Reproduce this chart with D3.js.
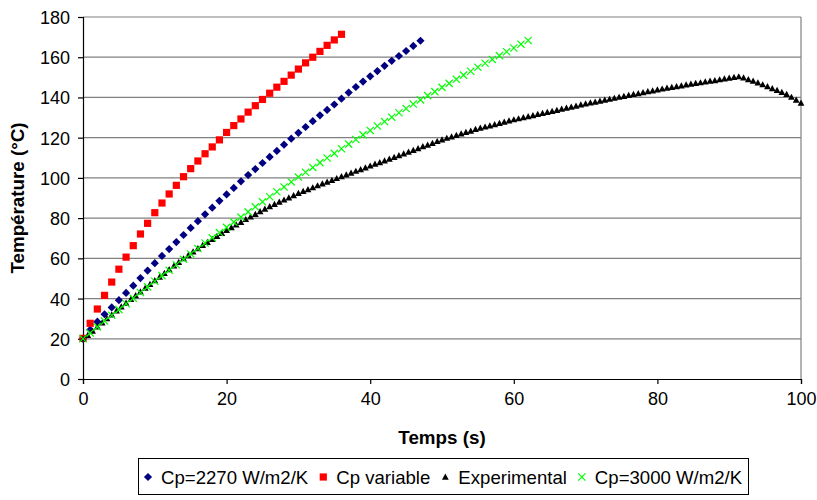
<!DOCTYPE html>
<html>
<head>
<meta charset="utf-8">
<script src="https://cdn.jsdelivr.net/npm/d3@7"></script>
<style>
  body { margin: 0; background: #fff; }
  svg { font-family: "Liberation Sans", Arial, sans-serif; }
</style>
</head>
<body>
<svg id="chart" width="817" height="500"></svg>
<script>
// Séries (température en °C)
const modelStep = 1;          // pas de temps des modèles (s)
const expStep = 2 / 3;        // pas d'échantillonnage des mesures (s)

const cp2270 = [20.0, 24.5, 28.5, 32.2, 35.6, 39.2, 42.8, 46.4, 50.2, 53.9,
  57.6, 61.2, 64.6, 68.1, 71.6, 75.1, 78.5, 81.9, 85.2, 88.6,
  91.8, 95.0, 98.3, 101.4, 104.4, 107.4, 110.4, 113.4, 116.5, 119.5,
  122.4, 125.3, 128.2, 131.1, 133.8, 136.5, 139.4, 142.4, 145.2, 147.9,
  150.5, 153.1, 155.7, 158.2, 160.6, 163.1, 165.6, 168.2];

const cpVariable = [20.2, 27.7, 34.8, 41.6, 48.2, 54.6, 60.6, 66.3, 72.1, 77.4,
  82.7, 87.5, 92.0, 96.3, 100.6, 104.6, 108.4, 112.0, 115.4, 118.9,
  122.6, 126.0, 129.3, 132.7, 135.9, 139.0, 142.1, 145.1, 148.0, 151.1,
  154.1, 157.2, 160.0, 162.9, 165.9, 168.6, 171.4];

const experimental = [20.0, 21.8, 23.9, 26.0, 28.0, 30.1, 32.0, 34.0, 36.0, 37.8,
  39.7, 41.6, 43.4, 45.3, 47.2, 49.0, 50.8, 52.6, 54.5, 56.3,
  58.1, 59.9, 61.6, 63.3, 64.9, 66.5, 68.0, 69.5, 71.0, 72.5,
  74.0, 75.4, 76.7, 78.0, 79.4, 80.7, 82.0, 83.3, 84.6, 85.8,
  86.9, 88.0, 89.1, 90.2, 91.3, 92.4, 93.4, 94.3, 95.2, 96.2,
  97.1, 98.0, 98.9, 99.8, 100.7, 101.6, 102.5, 103.4, 104.2, 105.1,
  106.0, 106.9, 107.7, 108.6, 109.4, 110.3, 111.2, 112.0, 112.9, 113.8,
  114.7, 115.6, 116.4, 117.3, 118.2, 119.0, 119.8, 120.5, 121.2, 122.0,
  122.7, 123.4, 124.2, 124.8, 125.4, 126.0, 126.6, 127.2, 127.8, 128.4,
  129.0, 129.5, 130.1, 130.6, 131.1, 131.7, 132.2, 132.7, 133.2, 133.7,
  134.3, 134.8, 135.3, 135.8, 136.4, 136.9, 137.4, 137.8, 138.3, 138.8,
  139.2, 139.7, 140.2, 140.6, 141.1, 141.6, 142.0, 142.5, 143.0, 143.4,
  143.9, 144.3, 144.7, 145.1, 145.5, 145.9, 146.3, 146.7, 147.1, 147.4,
  147.8, 148.2, 148.5, 148.9, 149.3, 149.7, 150.1, 150.4, 149.8, 149.0,
  148.2, 147.3, 146.4, 145.5, 144.5, 143.6, 142.6, 141.6, 140.2, 138.8,
  137.3];

const cp3000 = [20.0, 22.9, 25.9, 28.8, 31.7, 34.5, 37.4, 40.2, 43.0, 45.8,
  48.6, 51.4, 54.1, 56.8, 59.5, 62.2, 64.9, 67.6, 70.2, 72.8,
  75.4, 78.0, 80.5, 83.1, 85.6, 88.1, 90.6, 93.1, 95.5, 98.0,
  100.4, 102.8, 105.2, 107.6, 109.9, 112.2, 114.5, 116.8, 119.1, 121.4,
  123.6, 125.8, 128.0, 130.2, 132.4, 134.5, 136.7, 138.8, 140.9, 142.9,
  145.0, 147.0, 149.0, 151.1, 153.0, 155.0, 157.0, 158.9, 160.8, 162.7,
  164.6, 166.5, 168.3];

const xTicks = [0, 20, 40, 60, 80, 100];
const yTicks = [0, 20, 40, 60, 80, 100, 120, 140, 160, 180];

const seriesNames = ['Cp=2270 W/m2/K', 'Cp variable', 'Experimental', 'Cp=3000 W/m2/K'];

// Zone de tracé
const svg = d3.select('#chart');
const plotLeft = 83, plotRight = 801, plotTop = 17, plotBottom = 379;

const x = d3.scaleLinear().domain([0, 100]).range([plotLeft, plotRight]);
const y = d3.scaleLinear().domain([0, 180]).range([plotBottom, plotTop]);

// Formes des marqueurs
const markers = {
  diamond: 'M0,-4.1L4.1,0L0,4.1L-4.1,0Z',
  square: 'M-3.6,-3.6H3.6V3.6H-3.6Z',
  triangle: 'M0,-3.4L3.4,2.8H-3.4Z',
  cross: 'M-3.6,-3.6L3.6,3.6M-3.6,3.6L3.6,-3.6'
};

const series = [
  { name: seriesNames[0], values: cp2270, step: modelStep, shape: 'diamond', color: '#000080' },
  { name: seriesNames[1], values: cpVariable, step: modelStep, shape: 'square', color: '#ff0000' },
  { name: seriesNames[2], values: experimental, step: expStep, shape: 'triangle', color: '#000000' },
  { name: seriesNames[3], values: cp3000, step: modelStep, shape: 'cross', color: '#00ff00' }
];

function drawMarker(sel, s) {
  sel.attr('d', markers[s.shape]);
  if (s.shape === 'cross') {
    sel.attr('fill', 'none').attr('stroke', s.color).attr('stroke-width', 1.2);
  } else {
    sel.attr('fill', s.color);
  }
}

// Grille horizontale
svg.append('g')
  .selectAll('line')
  .data(yTicks.filter(d => d > 0))
  .join('line')
  .attr('x1', plotLeft).attr('x2', plotRight)
  .attr('y1', d => y(d)).attr('y2', d => y(d))
  .attr('stroke', '#808080')
  .attr('stroke-width', 1.2);

// Bordure droite de la zone de tracé
svg.append('line')
  .attr('x1', plotRight).attr('x2', plotRight)
  .attr('y1', plotTop).attr('y2', plotBottom)
  .attr('stroke', '#808080')
  .attr('stroke-width', 1.2);

// Axes
const xAxis = svg.append('g')
  .attr('transform', `translate(0,${plotBottom})`)
  .call(d3.axisBottom(x).tickValues(xTicks).tickSize(5).tickPadding(8));

const yAxis = svg.append('g')
  .attr('transform', `translate(${plotLeft},0)`)
  .call(d3.axisLeft(y).tickValues(yTicks).tickSize(5).tickPadding(8));

[xAxis, yAxis].forEach(g => {
  g.select('.domain').attr('stroke', '#000').attr('stroke-width', 1.2);
  g.selectAll('.tick line').attr('stroke', '#000').attr('stroke-width', 1.2);
  g.selectAll('.tick text')
    .attr('fill', '#000')
    .style('font-size', '18px')
    .style('font-family', '"Liberation Sans", Arial, sans-serif');
});
yAxis.selectAll('.tick text').attr('dy', '0.36em');

// Séries
series.forEach(s => {
  svg.append('g')
    .selectAll('path')
    .data(s.values.map((v, i) => ({ t: i * s.step, v })))
    .join('path')
    .call(drawMarker, s)
    .attr('transform', d => `translate(${x(d.t)},${y(d.v)})`);
});

// Titres des axes
svg.append('text')
  .attr('x', (plotLeft + plotRight) / 2)
  .attr('y', 444)
  .attr('text-anchor', 'middle')
  .style('font-size', '18.8px')
  .style('font-weight', 'bold')
  .text('Temps (s)');

svg.append('text')
  .attr('transform', `translate(24,${(plotTop + plotBottom) / 2}) rotate(-90)`)
  .attr('text-anchor', 'middle')
  .style('font-size', '18.8px')
  .style('font-weight', 'bold')
  .text('Température (°C)');

// Légende
const legend = svg.append('g');
legend.append('rect')
  .attr('x', 138.5).attr('y', 458.5)
  .attr('width', 610).attr('height', 36)
  .attr('fill', '#fff')
  .attr('stroke', '#000')
  .attr('stroke-width', 1);

let cursor = 148;
series.forEach(s => {
  const item = legend.append('g').attr('transform', `translate(${cursor},477)`);
  item.append('path').call(drawMarker, s);
  const label = item.append('text')
    .attr('x', 13)
    .attr('y', 6.5)
    .style('font-size', '18.6px')
    .text(s.name);
  cursor += 13 + label.node().getComputedTextLength() + 15;
});
</script>
</body>
</html>
